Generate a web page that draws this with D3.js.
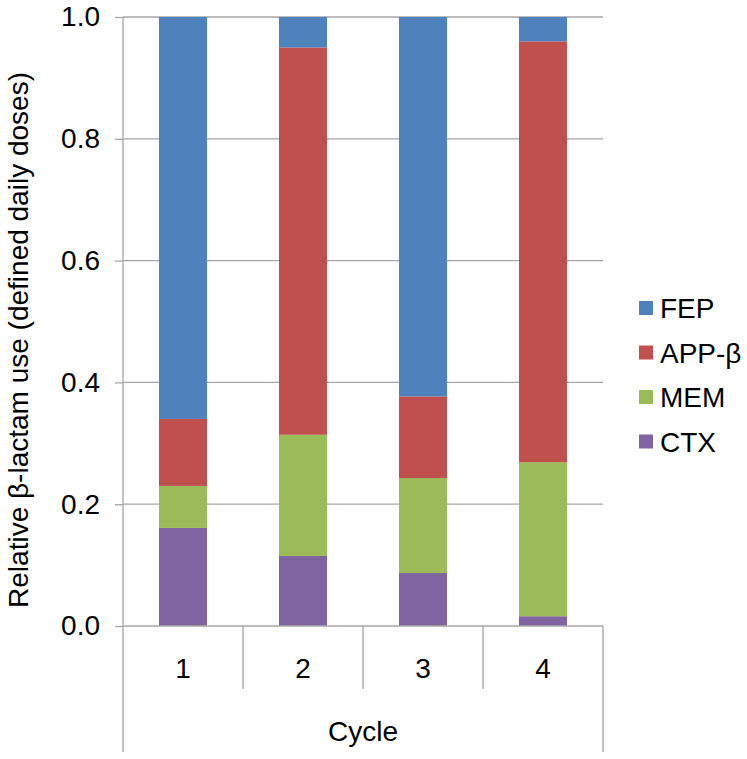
<!DOCTYPE html>
<html>
<head>
<meta charset="utf-8">
<script src="https://cdn.jsdelivr.net/npm/d3@7"></script>
<style>
  body { margin: 0; background: #fff; }
  text { font-family: "Liberation Sans", Arial, sans-serif; fill: #000; }
</style>
</head>
<body>
<svg id="chart" width="747" height="759"></svg>
<script>
const categories = ["1", "2", "3", "4"];
const seriesNames = ["CTX", "MEM", "APP-β", "FEP"];
const CTX  = [0.161, 0.115, 0.087, 0.016];
const MEM  = [0.069, 0.199, 0.156, 0.253];
const APPb = [0.110, 0.636, 0.134, 0.691];
const FEP  = [0.660, 0.050, 0.623, 0.040];
const yTicks = [0, 0.2, 0.4, 0.6, 0.8, 1.0];
const colors = { "FEP": "#4F81BD", "APP-β": "#C0504D", "MEM": "#9BBB59", "CTX": "#8064A2" };
const legendOrder = ["FEP", "APP-β", "MEM", "CTX"];

const rows = categories.map((c, i) => ({ cat: c, "CTX": CTX[i], "MEM": MEM[i], "APP-β": APPb[i], "FEP": FEP[i] }));
const stacked = d3.stack().keys(seriesNames)(rows);

const svg = d3.select("#chart");
const mLeft = 123, mRight = 603, mTop = 17, mBottom = 626;

const x = d3.scaleBand().domain(categories).range([mLeft, mRight]).paddingInner(0.6).paddingOuter(0.3);
const y = d3.scaleLinear().domain([0, 1]).range([mBottom, mTop]);
const gridColor = "#A6A6A6";

// gridlines
svg.append("g").selectAll("line").data(yTicks.filter(d => d > 0)).join("line")
  .attr("x1", mLeft).attr("x2", mRight)
  .attr("y1", d => y(d)).attr("y2", d => y(d))
  .attr("stroke", gridColor).attr("stroke-width", 1.3);

// bars
svg.append("g").selectAll("g").data(stacked).join("g")
  .attr("fill", d => colors[d.key])
  .selectAll("rect").data(d => d).join("rect")
  .attr("x", d => x(d.data.cat))
  .attr("width", x.bandwidth())
  .attr("y", d => y(d[1]))
  .attr("height", d => y(d[0]) - y(d[1]));

// y axis
const yAxis = d3.axisLeft(y).tickValues(yTicks).tickFormat(d3.format(".1f")).tickSize(8).tickPadding(15);
const ya = svg.append("g").attr("transform", `translate(${mLeft},0)`).call(yAxis);
ya.select(".domain").remove();
ya.selectAll(".tick line").attr("stroke", gridColor).attr("stroke-width", 1.3);
ya.selectAll(".tick text").attr("font-size", 28).attr("font-family", "Liberation Sans, Arial, sans-serif").attr("fill", "#000");
svg.append("line").attr("x1", mLeft).attr("x2", mLeft).attr("y1", mTop).attr("y2", 752)
  .attr("stroke", gridColor).attr("stroke-width", 1.3);
svg.append("line").attr("x1", mRight).attr("x2", mRight).attr("y1", mBottom).attr("y2", 752)
  .attr("stroke", gridColor).attr("stroke-width", 1.3);
// baseline
svg.append("line").attr("x1", mLeft).attr("x2", mRight).attr("y1", mBottom).attr("y2", mBottom)
  .attr("stroke", gridColor).attr("stroke-width", 1.3);

// category separators
const step = x.step();
svg.append("g").selectAll("line").data(categories.slice(1)).join("line")
  .attr("x1", d => x(d) - (step - x.bandwidth()) / 2)
  .attr("x2", d => x(d) - (step - x.bandwidth()) / 2)
  .attr("y1", mBottom).attr("y2", 689)
  .attr("stroke", gridColor).attr("stroke-width", 1.3);

// category labels
svg.append("g").selectAll("text").data(categories).join("text")
  .attr("x", d => x(d) + x.bandwidth() / 2)
  .attr("y", 678)
  .attr("text-anchor", "middle")
  .attr("font-size", 28)
  .text(d => d);

svg.append("text").attr("x", (mLeft + mRight) / 2).attr("y", 741)
  .attr("text-anchor", "middle").attr("font-size", 28).text("Cycle");

// y title
svg.append("text")
  .attr("transform", `translate(28,340) rotate(-90)`)
  .attr("text-anchor", "middle").attr("font-size", 28)
  .text("Relative β-lactam use (defined daily doses)");

// legend
const lg = svg.append("g").selectAll("g").data(legendOrder).join("g")
  .attr("transform", (d, i) => `translate(639,${308 + i * 44.5})`);
lg.append("rect").attr("x", 0).attr("y", -7).attr("width", 14).attr("height", 14).attr("fill", d => colors[d]);
lg.append("text").attr("x", 21).attr("y", 10).attr("font-size", 28).text(d => d);
</script>
</body>
</html>
